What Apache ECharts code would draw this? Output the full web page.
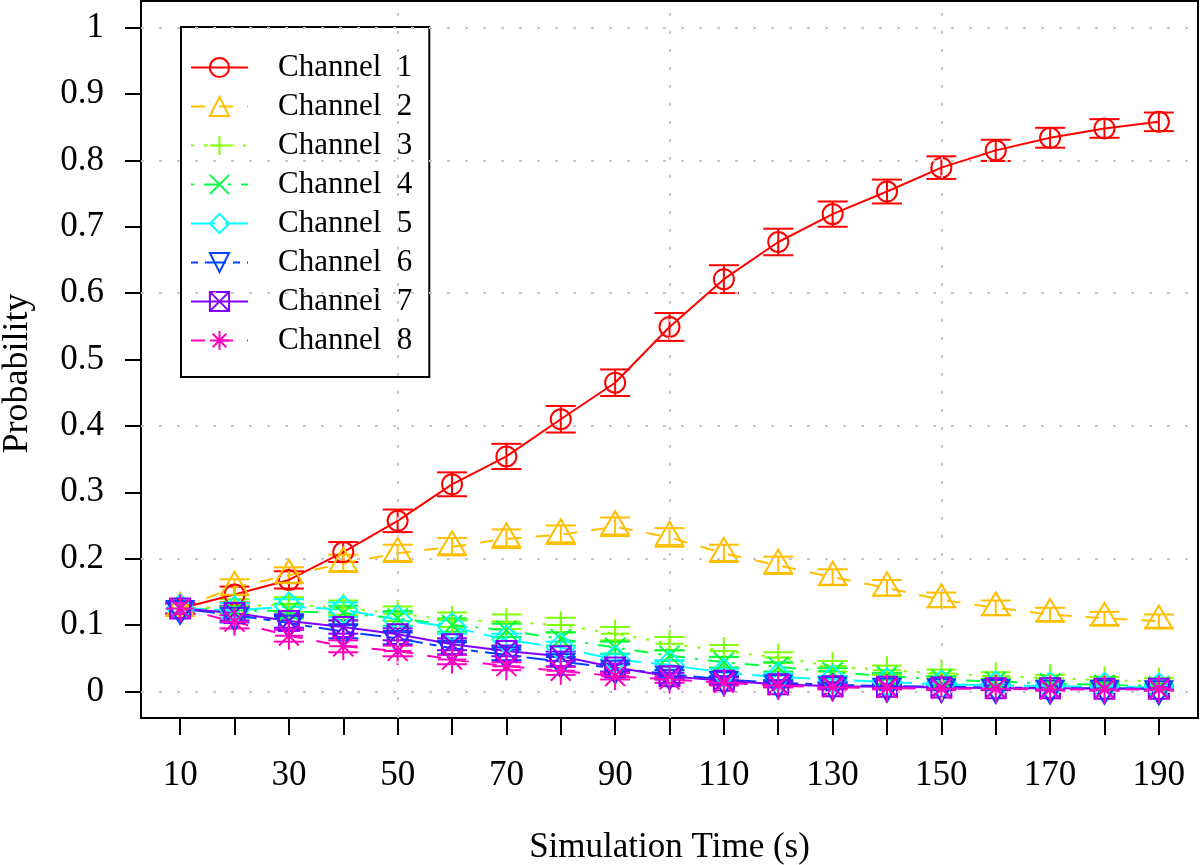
<!DOCTYPE html>
<html><head><meta charset="utf-8">
<script src="https://cdn.jsdelivr.net/npm/echarts@6/dist/echarts.min.js"></script>
<style>html,body{margin:0;padding:0;background:#fff}#c{width:1200px;height:865px}</style>
</head><body><div id="c"></div>
<script>
// ---- data ----
const times = [10,20,30,40,50,60,70,80,90,100,110,120,130,140,150,160,170,180,190];
const ch1 = [0.125,0.146,0.168,0.210,0.257,0.312,0.354,0.410,0.465,0.549,0.621,0.677,0.719,0.753,0.789,0.815,0.834,0.848,0.858];
const ch2 = [0.125,0.157,0.175,0.193,0.208,0.218,0.230,0.236,0.248,0.232,0.208,0.190,0.172,0.156,0.138,0.126,0.116,0.110,0.106];
const ch3 = [0.125,0.128,0.131,0.126,0.117,0.108,0.105,0.100,0.087,0.072,0.061,0.051,0.038,0.032,0.027,0.023,0.020,0.017,0.015];
const ch4 = [0.125,0.122,0.121,0.118,0.110,0.100,0.092,0.079,0.066,0.054,0.044,0.037,0.029,0.023,0.018,0.015,0.012,0.010,0.008];
const ch5 = [0.125,0.122,0.128,0.123,0.108,0.097,0.078,0.066,0.048,0.040,0.028,0.022,0.018,0.014,0.011,0.009,0.008,0.007,0.006];
const ch6 = [0.125,0.115,0.103,0.090,0.080,0.065,0.055,0.045,0.035,0.026,0.018,0.013,0.010,0.008,0.007,0.006,0.005,0.005,0.004];
const ch7 = [0.125,0.118,0.106,0.097,0.086,0.071,0.061,0.053,0.036,0.023,0.016,0.011,0.008,0.007,0.006,0.005,0.005,0.004,0.004];
const ch8 = [0.125,0.105,0.084,0.068,0.061,0.048,0.038,0.031,0.023,0.018,0.013,0.009,0.006,0.005,0.004,0.004,0.003,0.003,0.003];
const err1 = [0.008,0.012,0.013,0.015,0.017,0.018,0.019,0.020,0.020,0.021,0.021,0.020,0.019,0.018,0.017,0.016,0.015,0.014,0.014];
const err2 = [0.008,0.012,0.012,0.013,0.013,0.013,0.014,0.014,0.014,0.014,0.013,0.013,0.012,0.012,0.011,0.011,0.010,0.010,0.010];
const err3 = [0.008,0.011,0.011,0.011,0.011,0.011,0.011,0.011,0.010,0.010,0.009,0.008,0.008,0.007,0.006,0.006,0.005,0.005,0.005];
const err4 = [0.008,0.011,0.011,0.011,0.011,0.010,0.010,0.010,0.009,0.008,0.008,0.007,0.006,0.005,0.005,0.004,0.004,0.004,0.003];
const err5 = [0.008,0.011,0.011,0.011,0.010,0.010,0.009,0.009,0.008,0.007,0.006,0.005,0.005,0.004,0.004,0.003,0.003,0.003,0.003];
const err6 = [0.008,0.011,0.010,0.010,0.009,0.009,0.008,0.007,0.006,0.006,0.005,0.004,0.004,0.003,0.003,0.003,0.003,0.002,0.002];
const err7 = [0.008,0.011,0.010,0.010,0.009,0.009,0.008,0.007,0.006,0.005,0.005,0.004,0.003,0.003,0.003,0.003,0.002,0.002,0.002];
const err8 = [0.008,0.010,0.009,0.009,0.008,0.007,0.006,0.006,0.005,0.005,0.004,0.003,0.003,0.002,0.002,0.002,0.002,0.002,0.002];
const channelNames = ['Channel  1','Channel  2','Channel  3','Channel  4','Channel  5','Channel  6','Channel  7','Channel  8'];
const xTickValues = [10,20,30,40,50,60,70,80,90,100,110,120,130,140,150,160,170,180,190];
const xLabelValues = [10,30,50,70,90,110,130,150,170,190];
const yLabelValues = [0,0.1,0.2,0.3,0.4,0.5,0.6,0.7,0.8,0.9,1];
const xGridValues = [50,100,150];
const yGridValues = [0,0.2,0.4,0.6,0.8,1];

const values = [ch1,ch2,ch3,ch4,ch5,ch6,ch7,ch8];
const errors = [err1,err2,err3,err4,err5,err6,err7,err8];

// ---- styles ----
const FONT = "'Liberation Serif','Times New Roman',serif";
const styles = [
  {color:'#FF0000', symbol:'circle', size:20, offset:[0,0], dash:'solid'},
  {color:'#FFBF00', symbol:'triangle', size:[27,23], offset:[0,-4], dash:[14,14]},
  {color:'#80FF00', symbol:'path://M0,-1L0,1M-1,0L1,0', size:28, offset:[0,0], dash:[3,10]},
  {color:'#00FF40', symbol:'path://M-1,-1L1,1M-1,1L1,-1', size:20, offset:[0,0], dash:[3,10,14,10]},
  {color:'#00FFFF', symbol:'diamond', size:28, offset:[0,0], dash:[24,10]},
  {color:'#0040FF', symbol:'path://M0,0L2,0L1,1.732Z', size:[27,23], offset:[0,4], dash:[7,7,21,7]},
  {color:'#8000FF', symbol:'path://M-1,-1L1,-1L1,1L-1,1ZM-1,-1L1,1M-1,1L1,-1', size:20, offset:[0,0], dash:'solid'},
  {color:'#FF00BF', symbol:'path://M-1,-1L1,1M-1,1L1,-1M-1.414,0L1.414,0M0,-1.414L0,1.414', size:28, offset:[0,0], dash:[14,14]}
];
const gridLineStyle = {color:'#c8c8c8', width:2, type:[3,15]};

const series = [];
// grid lines through the library's scales
series.push({
  type:'line', name:'grid', data:[], z:1, silent:true,
  markLine:{
    silent:true, symbol:['none','none'], label:{show:false}, animation:false,
    lineStyle: gridLineStyle, emphasis:{disabled:true},
    data: xGridValues.map(v=>({xAxis:v})).concat(yGridValues.map(v=>({yAxis:v})))
  }
});
values.forEach((vals, i) => {
  const st = styles[i];
  series.push({
    type:'custom', name:'err'+(i+1), silent:true, z:2,
    data: times.map((t,j)=>[t, vals[j], errors[i][j]]),
    encode:{x:0, y:1},
    renderItem:(params, api) => {
      const x = api.value(0), y = api.value(1), e = api.value(2);
      const p1 = api.coord([x, y + e]), p2 = api.coord([x, y - e]);
      const w = 15;
      const style = {stroke: st.color, lineWidth: 2, fill: null};
      return {type:'group', children:[
        {type:'line', shape:{x1:p1[0], y1:p1[1], x2:p2[0], y2:p2[1]}, style},
        {type:'line', shape:{x1:p1[0]-w, y1:p1[1], x2:p1[0]+w, y2:p1[1]}, style},
        {type:'line', shape:{x1:p2[0]-w, y1:p2[1], x2:p2[0]+w, y2:p2[1]}, style}
      ]};
    }
  });
  series.push({
    type:'line', name: channelNames[i], z:3,
    data: times.map((t,j)=>[t, vals[j]]),
    symbol: st.symbol, symbolSize: st.size, symbolOffset: st.offset, showAllSymbol:true,
    lineStyle:{color: st.color, width:2, type: st.dash},
    itemStyle:{color:'transparent', borderColor: st.color, borderWidth:2},
    emphasis:{disabled:true}
  });
});

const chart = echarts.init(document.getElementById('c'), null, {renderer:'canvas'});
chart.setOption({
  animation:false,
  backgroundColor:'#fff',
  grid:{left:141, right:2, top:1, bottom:147, show:true, borderColor:'#000', borderWidth:2,
        backgroundColor:'transparent', containLabel:false, outerBoundsMode:'none'},
  legend:{
    data: channelNames, orient:'vertical', left:181, top:27,
    padding:[25,17,21,9], itemWidth:57, itemHeight:24, itemGap:8,
    borderColor:'#000', borderWidth:2, backgroundColor:'transparent',
    textStyle:{fontFamily:FONT, fontSize:31, color:'#000', padding:[0,0,0,25]},
    selectedMode:false
  },
  xAxis:{type:'value', min:2.8, max:197.2,
     axisLine:{show:false, onZero:false},
     axisTick:{show:true, inside:false, length:17, customValues:xTickValues, lineStyle:{color:'#000', width:2}},
     axisLabel:{show:true, customValues:xLabelValues, margin:40, fontFamily:FONT, fontSize:35, color:'#000'},
     splitLine:{show:false},
     name:'Simulation Time (s)', nameLocation:'middle', nameGap:112,
     nameTextStyle:{fontFamily:FONT, fontSize:35, color:'#000'}},
  yAxis:{type:'value', min:-0.04, max:1.04,
     axisLine:{show:false, onZero:false},
     axisTick:{show:true, inside:false, length:16, customValues:yLabelValues, lineStyle:{color:'#000', width:2}},
     axisLabel:{show:true, customValues:yLabelValues, margin:37, fontFamily:FONT, fontSize:35, color:'#000'},
     splitLine:{show:false},
     name:'Probability', nameLocation:'middle', nameGap:105, nameRotate:90,
     nameTextStyle:{fontFamily:FONT, fontSize:36, color:'#000', padding:[0,28,0,0]}},
  series: series
});
</script></body></html>
